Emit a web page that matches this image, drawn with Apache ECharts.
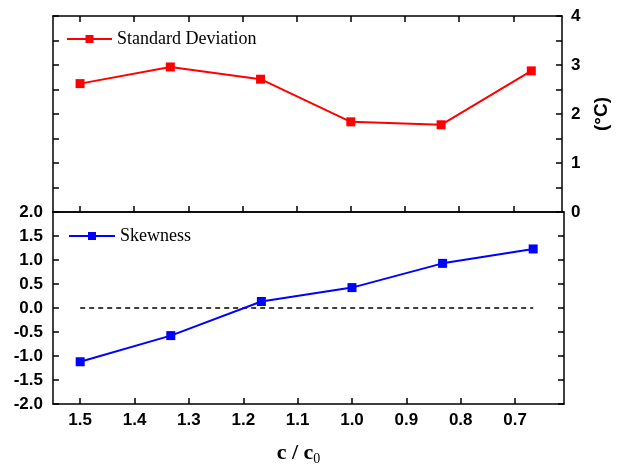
<!DOCTYPE html>
<html>
<head>
<meta charset="utf-8">
<script src="https://cdn.jsdelivr.net/npm/echarts@6/dist/echarts.min.js"></script>
<style>
  html, body { margin: 0; padding: 0; background: #fff; }
  #chart { width: 619px; height: 467px; }
</style>
</head>
<body>
<div id="chart"></div>
<script>
// Concentration ratio c / c0 for each run
const ratios = [1.5, 1.3333, 1.1667, 1.0, 0.8333, 0.6667];
// Standard deviation of temperature (°C)
const stdDev = [2.62, 2.96, 2.71, 1.84, 1.78, 2.88];
// Skewness of temperature distribution
const skewness = [-1.12, -0.575, 0.135, 0.425, 0.93, 1.23];
// Zero reference line for skewness
const zeroLineX = [1.5, 0.6667];
const zeroLineY = [0, 0];
// Tick labels
const xTicks = [1.5, 1.4, 1.3, 1.2, 1.1, 1.0, 0.9, 0.8, 0.7];
const sdTicks = [0, 1, 2, 3, 4];
const skTicks = [-2.0, -1.5, -1.0, -0.5, 0.0, 0.5, 1.0, 1.5, 2.0];

const pair = (xs, ys) => xs.map((x, i) => [x, ys[i]]);

const X_MIN = 0.61, X_MAX = 1.55;
const tickFont = { fontFamily: 'Liberation Sans, Arial, sans-serif', fontWeight: 'bold', fontSize: 17, color: '#000' };
const lineStyleAxis = { color: '#000', width: 1.5 };
const serif = 'Liberation Serif, Times New Roman, serif';

function xAxisDef(gridIndex, position, showLabels) {
  return {
    type: 'value', gridIndex, position, min: X_MIN, max: X_MAX, inverse: true,
    axisLine: { show: true, onZero: false, lineStyle: lineStyleAxis },
    axisTick: { show: true, inside: true, length: 6, customValues: xTicks, lineStyle: lineStyleAxis },
    axisLabel: showLabels
      ? Object.assign({ show: true, customValues: xTicks, margin: 8, formatter: v => v.toFixed(1) }, tickFont)
      : { show: false },
    splitLine: { show: false }
  };
}

const option = {
  animation: false,
  backgroundColor: '#fff',
  grid: [
    { left: 53, top: 16, width: 511, height: 196 },
    { left: 53, top: 212, width: 511, height: 195 }
  ],
  xAxis: [
    xAxisDef(0, 'bottom', false),
    xAxisDef(0, 'top', false),
    Object.assign(xAxisDef(1, 'bottom', true), {
      name: '{a|c / c}{s|0}',
      nameLocation: 'middle',
      nameGap: 36,
      nameTextStyle: {
        padding: [0, 20, 0, 0],
        rich: {
          a: { fontFamily: serif, fontSize: 22, fontWeight: 'bold', color: '#000' },
          s: { fontFamily: serif, fontSize: 14, color: '#000', padding: [12, 0, 0, 0] }
        }
      }
    }),
    Object.assign(xAxisDef(1, 'top', false), { axisTick: { show: false } })
  ],
  yAxis: [
    { type: 'value', gridIndex: 0, position: 'left', min: 0, max: 4, interval: 0.5,
      axisLine: { show: true, lineStyle: lineStyleAxis },
      axisTick: { show: true, inside: true, length: 6, lineStyle: lineStyleAxis },
      axisLabel: { show: false }, splitLine: { show: false } },
    { type: 'value', gridIndex: 0, position: 'right', min: 0, max: 4, interval: 0.5,
      axisLine: { show: true, lineStyle: lineStyleAxis },
      axisTick: { show: true, inside: true, length: 6, lineStyle: lineStyleAxis },
      axisLabel: Object.assign({ show: true, margin: 9, customValues: sdTicks, formatter: v => String(v) }, tickFont),
      name: '(°C)', nameLocation: 'middle', nameRotate: 90, nameGap: 30,
      nameTextStyle: { fontFamily: 'Liberation Sans, Arial, sans-serif', fontWeight: 'bold', fontSize: 19, color: '#000' },
      splitLine: { show: false } },
    { type: 'value', gridIndex: 1, position: 'left', min: -2, max: 2, interval: 0.5,
      axisLine: { show: true, lineStyle: lineStyleAxis },
      axisTick: { show: true, inside: true, length: 6, lineStyle: lineStyleAxis },
      axisLabel: Object.assign({ show: true, margin: 10, customValues: skTicks, formatter: v => v.toFixed(1) }, tickFont),
      splitLine: { show: false } },
    { type: 'value', gridIndex: 1, position: 'right', min: -2, max: 2, interval: 0.5,
      axisLine: { show: true, lineStyle: lineStyleAxis },
      axisTick: { show: true, inside: true, length: 6, lineStyle: lineStyleAxis },
      axisLabel: { show: false }, splitLine: { show: false } }
  ],
  legend: [
    { data: ['Standard Deviation'], left: 61, top: 25, itemWidth: 45, itemHeight: 10,
      textStyle: { fontFamily: serif, fontSize: 18, color: '#000' } },
    { data: ['Skewness'], left: 63, top: 222, itemWidth: 46, itemHeight: 10,
      textStyle: { fontFamily: serif, fontSize: 18, color: '#000' } }
  ],
  series: [
    { name: 'Standard Deviation', type: 'line', xAxisIndex: 0, yAxisIndex: 0,
      data: pair(ratios, stdDev), symbol: 'rect', symbolSize: 9,
      itemStyle: { color: '#ff0000' }, lineStyle: { color: '#ff0000', width: 2 } },
    { name: 'Skewness', type: 'line', xAxisIndex: 2, yAxisIndex: 2,
      data: pair(ratios, skewness), symbol: 'rect', symbolSize: 9,
      itemStyle: { color: '#0000ff' }, lineStyle: { color: '#0000ff', width: 2 } },
    { name: 'zero', type: 'line', xAxisIndex: 2, yAxisIndex: 2, z: 1,
      data: pair(zeroLineX, zeroLineY), symbol: 'none',
      lineStyle: { color: '#000', width: 1.4, type: [5, 4] } }
  ]
};

echarts.init(document.getElementById('chart'), null, { renderer: 'canvas' }).setOption(option);
</script>
</body>
</html>
